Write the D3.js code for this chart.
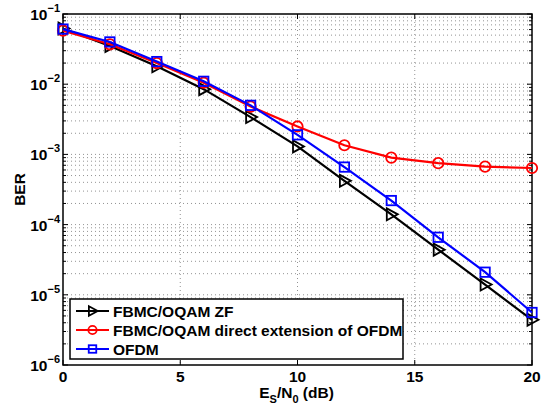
<!DOCTYPE html>
<html>
<head>
<meta charset="utf-8">
<script src="https://cdn.jsdelivr.net/npm/d3@7"></script>
<style>
  body { margin: 0; background: #fff; }
  text { font-family: "Liberation Sans", Arial, sans-serif; font-weight: bold; }
</style>
</head>
<body>
<svg id="chart" width="552" height="405"></svg>
<script>
// data
const snr = [0, 2, 4, 6, 8, 10, 12, 14, 16, 18, 20]
const berZF = [0.062, 0.035, 0.018, 0.0085, 0.0034, 0.0013, 4.2e-4, 1.4e-4, 4.4e-5, 1.4e-5, 4.4e-6]
const berDirect = [0.058, 0.037, 0.020, 0.0105, 0.0048, 0.0025, 0.00135, 9.0e-4, 7.5e-4, 6.7e-4, 6.4e-4]
const berOFDM = [0.061, 0.040, 0.021, 0.011, 0.0050, 0.0019, 6.6e-4, 2.2e-4, 6.6e-5, 2.1e-5, 5.6e-6]
const xTicks = [0, 5, 10, 15, 20]
const yExps = [-6, -5, -4, -3, -2, -1]
const seriesNames = ["FBMC/OQAM ZF", "FBMC/OQAM direct extension of OFDM", "OFDM"]

const series = [
  { name: seriesNames[0], values: berZF, color: "#000", marker: "tri" },
  { name: seriesNames[1], values: berDirect, color: "#f00", marker: "circle" },
  { name: seriesNames[2], values: berOFDM, color: "#00f", marker: "square" }
]

const svg = d3.select("#chart")
const pl = 63, pr = 532, pt = 14, pb = 365

const x = d3.scaleLinear().domain([0, 20]).range([pl, pr])
const y = d3.scaleLog().domain([1e-6, 1e-1]).range([pb, pt])

// grid lines (dotted)
const grid = svg.append("g").attr("stroke", "#777").attr("stroke-width", 0.8)
  .attr("stroke-dasharray", "1,3")
xTicks.slice(1, -1).forEach(t => {
  grid.append("line").attr("x1", x(t)).attr("x2", x(t)).attr("y1", pt).attr("y2", pb)
})
const yMinor = []
for (let e = -6; e < -1; e++) {
  for (let m = 2; m <= 9; m++) yMinor.push(m * Math.pow(10, e))
}
const yMajor = yExps.map(e => Math.pow(10, e))
yMinor.concat(yMajor.slice(1, -1)).forEach(v => {
  grid.append("line").attr("x1", pl).attr("x2", pr).attr("y1", y(v)).attr("y2", y(v))
})

// ticks inside the box
const ticks = svg.append("g").attr("stroke", "#000").attr("stroke-width", 1)
xTicks.forEach(t => {
  ticks.append("line").attr("x1", x(t)).attr("x2", x(t)).attr("y1", pb).attr("y2", pb - 5)
  ticks.append("line").attr("x1", x(t)).attr("x2", x(t)).attr("y1", pt).attr("y2", pt + 5)
})
yMinor.forEach(v => {
  ticks.append("line").attr("x1", pl).attr("x2", pl + 3).attr("y1", y(v)).attr("y2", y(v))
  ticks.append("line").attr("x1", pr).attr("x2", pr - 3).attr("y1", y(v)).attr("y2", y(v))
})
yMajor.forEach(v => {
  ticks.append("line").attr("x1", pl).attr("x2", pl + 5).attr("y1", y(v)).attr("y2", y(v))
  ticks.append("line").attr("x1", pr).attr("x2", pr - 5).attr("y1", y(v)).attr("y2", y(v))
})

// axis box
svg.append("rect").attr("x", pl).attr("y", pt).attr("width", pr - pl).attr("height", pb - pt)
  .attr("fill", "none").attr("stroke", "#000").attr("stroke-width", 1.5)

// tick labels
xTicks.forEach(t => {
  svg.append("text").attr("x", x(t)).attr("y", pb + 17).attr("text-anchor", "middle")
    .attr("font-size", 15.5).text(t)
})
yExps.forEach(e => {
  const lab = svg.append("text").attr("x", pl - 3).attr("y", y(Math.pow(10, e)) + 6)
    .attr("text-anchor", "end").attr("font-size", 15.5)
  lab.append("tspan").text("10")
  lab.append("tspan").attr("font-size", 11).attr("dy", -8).text("\u2212" + (-e))
})

// axis labels
svg.append("text").attr("transform", `translate(25,${(pt + pb) / 2}) rotate(-90)`)
  .attr("text-anchor", "middle").attr("font-size", 15.5).text("BER")
const xl = svg.append("text").attr("x", (pl + pr) / 2 - 1).attr("y", 398)
  .attr("text-anchor", "middle").attr("font-size", 15.5)
xl.append("tspan").text("E")
xl.append("tspan").attr("font-size", 11).attr("dy", 5).text("S")
xl.append("tspan").attr("dy", -5).text("/N")
xl.append("tspan").attr("font-size", 11).attr("dy", 5).text("0")
xl.append("tspan").attr("dy", -5).text(" (dB)")

// marker drawing
function drawMarker(g, kind, cx, cy, color, k) {
  if (kind === "tri") {
    g.append("path").attr("d", `M${cx - 4.5 * k},${cy - 6 * k}L${cx + 6.5 * k},${cy}L${cx - 4.5 * k},${cy + 6 * k}Z`)
      .attr("fill", "none").attr("stroke", color).attr("stroke-width", 1.8)
  } else if (kind === "circle") {
    g.append("circle").attr("cx", cx).attr("cy", cy).attr("r", 5.2 * k)
      .attr("fill", "none").attr("stroke", color).attr("stroke-width", 1.8)
  } else {
    g.append("rect").attr("x", cx - 4.7 * k).attr("y", cy - 4.7 * k).attr("width", 9.4 * k).attr("height", 9.4 * k)
      .attr("fill", "none").attr("stroke", color).attr("stroke-width", 1.8)
  }
}

const line = d3.line().x(d => x(d[0])).y(d => y(d[1]))
series.forEach(s => {
  const pts = snr.map((v, i) => [v, s.values[i]])
  const g = svg.append("g")
  g.append("path").attr("d", line(pts)).attr("fill", "none").attr("stroke", s.color).attr("stroke-width", 2.2)
  pts.forEach(p => drawMarker(g, s.marker, x(p[0]), y(p[1]), s.color, 1))
})

// legend
const legend = svg.append("g")
legend.append("rect").attr("x", 70).attr("y", 299).attr("width", 333).attr("height", 60)
  .attr("fill", "#fff").attr("stroke", "#000").attr("stroke-width", 1.5)
series.forEach((s, i) => {
  const ly = 311 + i * 19
  legend.append("line").attr("x1", 76).attr("x2", 109).attr("y1", ly).attr("y2", ly)
    .attr("stroke", s.color).attr("stroke-width", 2.2)
  drawMarker(legend, s.marker, 92.5, ly, s.color, 0.8)
  legend.append("text").attr("x", 113).attr("y", ly + 5.5).attr("font-size", 15.5).text(s.name)
})
</script>
</body>
</html>
